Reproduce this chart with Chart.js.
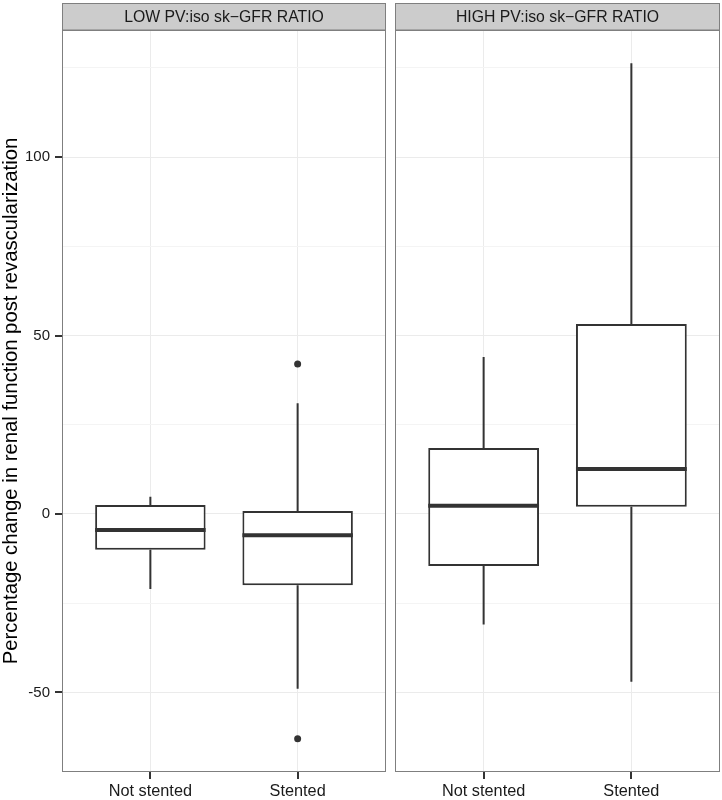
<!DOCTYPE html>
<html>
<head>
<meta charset="utf-8">
<script src="https://cdn.jsdelivr.net/npm/chart.js@4"></script>
<style>
  body { margin: 0; background: #fff; }
  #wrap { position: relative; width: 722px; height: 800px; }
  .painel { position: absolute; top: 0; }
</style>
</head>
<body>
<div id="wrap">
  <canvas id="chartLow" class="painel" style="left:0" width="390" height="800"></canvas>
  <canvas id="chartHigh" class="painel" style="left:390px" width="332" height="800"></canvas>
</div>
<script>
const grupos = ['Not stented', 'Stented'];
const paineis = ['LOW PV:iso sk\u2212GFR RATIO', 'HIGH PV:iso sk\u2212GFR RATIO'];
const ticksY = [-50, 0, 50, 100];
const gradeY = [-50, -25, 0, 25, 50, 75, 100, 125];

// LOW ratio: min, Q1, mediana, Q3, max, outliers
const lowMin = [-21, -49];
const lowQ1 = [-10, -20];
const lowMed = [-4.5, -6];
const lowQ3 = [2.5, 0.8];
const lowMax = [4.8, 31];
const lowOut = [[], [42, -63]];

// HIGH ratio
const highMin = [-31, -47];
const highQ1 = [-14.6, 2];
const highMed = [2.3, 12.6];
const highQ3 = [18.5, 53.2];
const highMax = [44, 126.3];
const highOut = [[], []];

const corLinha = '#333333';
const fonte = 'Liberation Sans, Arial, sans-serif';

function montarDatasets(mins, q1s, meds, q3s, maxs, outs) {
    const bigodes = [], medianas = [], caixas = [], pontos = [];
    grupos.forEach((g, i) => {
        const x = i + 1;
        bigodes.push({x: x, y: q3s[i]}, {x: x, y: maxs[i]}, {x: x, y: null},
                     {x: x, y: q1s[i]}, {x: x, y: mins[i]}, {x: x, y: null});
        medianas.push({x: x - 0.375, y: meds[i]}, {x: x + 0.375, y: meds[i]}, {x: x, y: null});
        caixas.push({x: x, y: [q1s[i], q3s[i]]});
        outs[i].forEach(v => pontos.push({x: x, y: v}));
    });
    return [
        { type: 'line', data: pontos, showLine: false, pointRadius: 3.5,
          pointBackgroundColor: corLinha, pointBorderWidth: 0, order: 0 },
        { type: 'line', data: medianas, borderColor: corLinha, borderWidth: 4,
          borderCapStyle: 'butt', pointRadius: 0, spanGaps: false, order: 1 },
        { type: 'bar', data: caixas, backgroundColor: '#ffffff', borderColor: corLinha,
          borderWidth: 2, borderSkipped: false, barPercentage: 0.75, categoryPercentage: 1, order: 2 },
        { type: 'line', data: bigodes, borderColor: corLinha, borderWidth: 2,
          borderCapStyle: 'butt', pointRadius: 0, spanGaps: false, order: 3 }
    ];
}

// faixa cinza do facet, moldura do painel e marcas dos eixos
const moldura = {
    id: 'moldura',
    beforeDraw(chart, args, opts) {
        const { ctx, chartArea: a } = chart;
        ctx.save();
        ctx.fillStyle = '#cccccc';
        ctx.fillRect(a.left, 3, a.right - a.left, a.top - 3);
        ctx.strokeStyle = '#7f7f7f';
        ctx.lineWidth = 1;
        ctx.strokeRect(a.left + 0.5, 3.5, a.right - a.left - 1, a.top - 3.5);
        ctx.fillStyle = '#1a1a1a';
        ctx.font = '15.8px ' + fonte;
        ctx.textAlign = 'center';
        ctx.textBaseline = 'middle';
        ctx.fillText(opts.texto, (a.left + a.right) / 2, (a.top + 3) / 2 + 1);
        ctx.restore();
    },
    afterDraw(chart, args, opts) {
        const { ctx, chartArea: a, scales } = chart;
        ctx.save();
        ctx.strokeStyle = '#7f7f7f';
        ctx.lineWidth = 1;
        ctx.strokeRect(a.left + 0.5, a.top + 0.5, a.right - a.left - 1, a.bottom - a.top - 1);
        ctx.fillStyle = corLinha;
        grupos.forEach((g, i) => {
            const px = Math.round(scales.x.getPixelForValue(i + 1));
            ctx.fillRect(px - 1, a.bottom, 2, 7);
        });
        if (opts.eixoY) {
            ticksY.forEach(v => {
                const py = Math.round(scales.y.getPixelForValue(v));
                ctx.fillRect(a.left - 7, py - 1, 7, 2);
            });
        }
        ctx.restore();
    }
};

function criarGrafico(id, datasets, texto, comEixo) {
    return new Chart(document.getElementById(id), {
        type: 'bar',
        data: { datasets: datasets },
        plugins: [moldura],
        options: {
            responsive: false,
            animation: false,
            layout: { padding: comEixo ? { left: 0, right: 3, top: 30, bottom: 0 }
                                       : { left: 5, right: 2, top: 30, bottom: 0 } },
            plugins: {
                legend: { display: false },
                tooltip: { enabled: false },
                moldura: { texto: texto, eixoY: comEixo }
            },
            scales: {
                x: {
                    type: 'linear',
                    min: 0.4,
                    max: 2.6,
                    offset: false,
                    afterBuildTicks: s => { s.ticks = grupos.map((g, i) => ({ value: i + 1 })); },
                    afterFit: s => { s.height = 28; },
                    ticks: {
                        callback: v => grupos[v - 1],
                        color: '#1a1a1a',
                        font: { family: fonte, size: 16.3 },
                        padding: 10,
                        maxRotation: 0
                    },
                    grid: { offset: false, color: '#ebebeb', drawTicks: false },
                    border: { display: false }
                },
                y: {
                    type: 'linear',
                    min: -72.3,
                    max: 135.6,
                    afterBuildTicks: s => { s.ticks = gradeY.map(v => ({ value: v })); },
                    afterFit: s => { s.width = comEixo ? 62 : 0; },
                    ticks: {
                        display: comEixo,
                        callback: v => ticksY.includes(v) ? String(v) : '',
                        color: '#1a1a1a',
                        font: { family: fonte, size: 15 },
                        padding: 12
                    },
                    grid: {
                        color: c => ticksY.includes(c.tick.value) ? '#ebebeb' : '#f4f4f4',
                        drawTicks: false
                    },
                    border: { display: false },
                    title: {
                        display: comEixo,
                        text: 'Percentage change in renal function post revascularization',
                        color: '#000000',
                        font: { family: fonte, size: 20.3 },
                        padding: { top: -1, bottom: 0 }
                    }
                }
            }
        }
    });
}

criarGrafico('chartLow', montarDatasets(lowMin, lowQ1, lowMed, lowQ3, lowMax, lowOut), paineis[0], true);
criarGrafico('chartHigh', montarDatasets(highMin, highQ1, highMed, highQ3, highMax, highOut), paineis[1], false);
</script>
</body>
</html>
